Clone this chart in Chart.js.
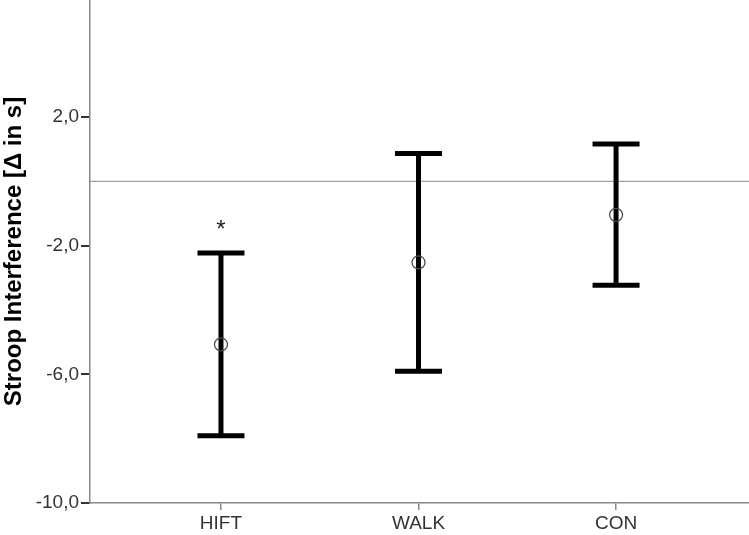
<!DOCTYPE html>
<html>
<head>
<meta charset="utf-8">
<script src="https://cdn.jsdelivr.net/npm/chart.js@4/dist/chart.umd.min.js"></script>
<style>
  html, body { margin: 0; padding: 0; background: #fff; overflow: hidden; }
  canvas { display: block; }
</style>
</head>
<body>
<canvas id="c" width="749" height="535" style="width:749px;height:535px"></canvas>
<script>
// ---- data ----
const categories = ['HIFT', 'WALK', 'CON'];
const means = [-5.07, -2.52, -1.04];
const upper = [-2.23, 0.87, 1.16];
const lower = [-7.91, -5.90, -3.23];
const significance = ['*', '', ''];
const yTicks = [2, -2, -6, -10];
const referenceValue = 0;

const errorBarPlugin = {
  id: 'errorBars',
  beforeDatasetsDraw(chart) {
    const { ctx, chartArea, scales } = chart;
    const x = scales.x, y = scales.y;
    ctx.save();
    ctx.strokeStyle = '#a0a0a0';
    ctx.lineWidth = 1.2;
    const ry = y.getPixelForValue(referenceValue);
    ctx.beginPath();
    ctx.moveTo(chartArea.left, ry);
    ctx.lineTo(chartArea.right, ry);
    ctx.stroke();
    ctx.strokeStyle = '#000';
    ctx.lineCap = 'butt';
    categories.forEach((c, i) => {
      const px = x.getPixelForValue(i);
      const pu = y.getPixelForValue(upper[i]);
      const pl = y.getPixelForValue(lower[i]);
      ctx.lineWidth = 5;
      ctx.beginPath();
      ctx.moveTo(px, pu);
      ctx.lineTo(px, pl);
      ctx.stroke();
      ctx.beginPath();
      ctx.moveTo(px - 23.5, pu);
      ctx.lineTo(px + 23.5, pu);
      ctx.moveTo(px - 23.5, pl);
      ctx.lineTo(px + 23.5, pl);
      ctx.stroke();
      if (significance[i]) {
        ctx.fillStyle = '#222';
        ctx.font = '24px "Liberation Sans", Arial, sans-serif';
        ctx.textAlign = 'center';
        ctx.textBaseline = 'middle';
        ctx.fillText(significance[i], px, pu - 23);
      }
    });
    ctx.restore();
  }
};

new Chart(document.getElementById('c'), {
  type: 'scatter',
  data: {
    datasets: [{
      data: means.map((m, i) => ({ x: i, y: m })),
      pointStyle: 'circle',
      pointRadius: 6.5,
      pointHoverRadius: 6.5,
      borderColor: '#4a4a4a',
      borderWidth: 1.3,
      backgroundColor: 'rgba(0,0,0,0)'
    }]
  },
  options: {
    responsive: false,
    animation: false,
    devicePixelRatio: 1,
    layout: { padding: 0, autoPadding: false },
    plugins: { legend: { display: false }, tooltip: { enabled: false } },
    scales: {
      x: {
        type: 'linear',
        min: -0.663,
        max: 2.673,
        afterBuildTicks(s) { s.ticks = categories.map((c, i) => ({ value: i })); },
        afterFit(s) { s.height = 32; s.paddingLeft = 0; s.paddingRight = 0; s.paddingTop = 0; s.paddingBottom = 0; },
        ticks: {
          callback: (v) => categories[v] ?? '',
          color: '#333',
          font: { family: '"Liberation Sans", Arial, sans-serif', size: 19 },
          padding: 2,
          maxRotation: 0,
          autoSkip: false
        },
        grid: { display: true, drawOnChartArea: false, drawTicks: true, tickLength: 7, color: '#888', lineWidth: 1.5 },
        border: { display: true, color: '#888', width: 1.5 }
      },
      y: {
        type: 'linear',
        min: -10,
        max: 5.64,
        afterBuildTicks(s) { s.ticks = yTicks.map(v => ({ value: v })); },
        afterFit(s) { s.width = 90; s.paddingTop = 0; s.paddingBottom = 0; s.paddingLeft = 0; s.paddingRight = 0; },
        ticks: {
          callback: (v) => v.toFixed(1).replace('.', ','),
          color: '#333',
          font: { family: '"Liberation Sans", Arial, sans-serif', size: 19 },
          padding: 2,
          autoSkip: false
        },
        grid: { display: true, drawOnChartArea: false, drawTicks: true, tickLength: 9, color: '#333', lineWidth: 2 },
        border: { display: true, color: '#888', width: 1.5 },
        title: {
          display: true,
          text: 'Stroop Interference [Δ in s]',
          color: '#000',
          font: { family: '"Liberation Sans", Arial, sans-serif', size: 24, weight: 'bold' },
          padding: { top: 0, bottom: 0 }
        }
      }
    }
  },
  plugins: [errorBarPlugin]
});
</script>
</body>
</html>
